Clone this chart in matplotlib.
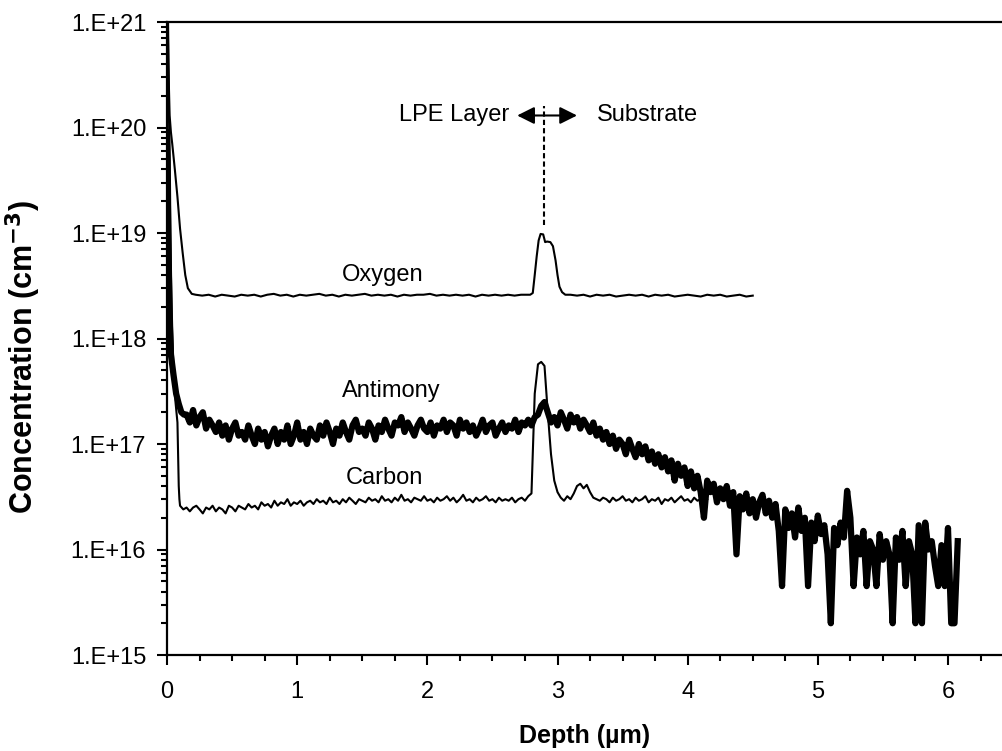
import numpy as np
import matplotlib
matplotlib.use('Agg')
import matplotlib.pyplot as plt
from matplotlib.ticker import MultipleLocator, LogLocator, FuncFormatter, NullFormatter

plt.rcParams['font.family'] = ['Liberation Sans', 'DejaVu Sans']

# ---- SIMS depth profile data (depth in um, concentration in cm^-3) ----
step = 0.025

# Antimony
sb_surf_depth = [0.0, 0.005, 0.01, 0.02, 0.03, 0.05, 0.07, 0.09, 0.11, 0.13]
sb_surf = [9e19, 5e19, 1e19, 1.5e18, 7e17, 4.5e17, 3e17, 2.4e17, 2e17, 1.9e17]
sb_start = 0.15
sb_vals = [  # x 1e16
    19, 16, 21, 15, 18, 20, 14, 17, 15, 13, 16, 12, 15, 11, 14, 16, 12, 13, 11, 15,
    12, 10, 14, 11, 13, 9.5, 12, 14, 10, 13, 11, 15, 10, 12, 16, 11, 13, 10, 14, 12,
    11, 15, 12, 16, 13, 10, 14, 12, 16, 13, 11, 15, 17, 13, 14, 12, 16, 14, 11, 15,
    13, 17, 14, 12, 16, 15, 18, 13, 16, 14, 12, 15, 17, 14, 13, 16, 12, 15, 14, 17,
    13, 16, 15, 12, 17, 14, 16, 13, 15, 12, 14, 17, 13, 15, 16, 12, 14, 16, 13, 15,
    14, 17, 13, 16, 15, 17, 15, 18, 19, 23, 25, 20, 16, 18, 15, 20, 17, 14, 19, 16,
    18, 14, 17, 15, 13, 16, 12, 14, 11, 13, 10, 12, 9, 11, 10, 8, 11, 9, 7.5, 10,
    8, 9.5, 7, 8.5, 6.5, 8, 6, 7.5, 5.5, 7, 4.5, 6.5, 5, 6, 4, 5.5, 3.8, 5, 3.5, 2.0,
    4.5, 3.5, 4.2, 2.8, 3.8, 3.0, 4.0, 2.6, 3.5, 0.9, 3.2, 2.4, 3.4, 2.2, 3.0, 2.0, 2.8, 3.3, 2.2, 2.9,
    2.0, 2.7, 1.5, 0.45, 2.4, 1.6, 2.2, 1.3, 2.5, 1.5, 2.0, 0.45, 1.8, 1.2, 2.1, 1.4, 1.7, 0.9, 0.2, 1.6,
    1.1, 1.8, 1.3, 3.6, 2.0, 0.45, 1.3, 0.9, 1.5, 0.45, 1.2, 1.0, 0.45, 1.4, 0.8, 1.2, 0.9, 0.2, 1.3, 0.8,
    1.5, 0.45, 1.2, 0.9, 0.2, 1.7, 0.2, 1.8, 1.0, 1.2, 0.7, 0.45, 1.1, 0.45, 1.6, 0.2, 0.2, 1.2,
]

# Carbon
c_surf_depth = [0.0, 0.005, 0.01, 0.02, 0.03, 0.04, 0.05, 0.065, 0.08, 0.085, 0.09, 0.095]
c_surf = [3e21, 2e21, 6e20, 3e19, 4e18, 1.2e18, 5e17, 2.5e17, 1.6e17, 8e16, 4e16, 3e16]
c_start = 0.10
c_vals = [  # x 1e16
    2.6, 2.4, 2.5, 2.3, 2.5, 2.6, 2.4, 2.2, 2.5, 2.4, 2.6, 2.3, 2.5, 2.4, 2.2, 2.6, 2.5, 2.3, 2.6, 2.5,
    2.4, 2.7, 2.5, 2.6, 2.4, 2.8, 2.6, 2.7, 2.5, 2.9, 2.6, 2.8, 2.7, 3.0, 2.6, 2.8, 2.7, 2.9, 2.6, 2.8,
    2.9, 2.7, 3.0, 2.8, 2.9, 2.7, 3.1, 2.8, 2.9, 2.7, 3.0, 2.8, 3.1, 2.9, 2.7, 3.0, 2.9, 2.8, 3.1, 2.9,
    3.0, 2.8, 3.2, 2.9, 3.0, 2.8, 3.1, 2.9, 3.3, 2.9, 3.0, 2.8, 3.1, 3.0, 2.9, 3.2, 2.9, 3.0, 2.8, 3.1,
    2.9, 3.0, 3.2, 2.9, 3.1, 2.8, 3.0, 3.3, 2.9, 3.0, 2.8, 3.1, 2.9, 3.0, 3.2, 2.9, 3.0, 2.8, 3.1, 2.9,
    3.0, 2.9, 3.1, 2.8, 3.0, 3.1, 2.9, 3.2, 3.4, 30, 57, 60, 55, 20, 8.0, 4.5, 3.5, 3.1, 2.9, 3.2,
    3.0, 3.4, 4.0, 4.2, 3.8, 4.1, 3.5, 3.1, 3.0, 2.9, 3.1, 3.0, 2.8, 3.1, 2.9, 3.0, 3.2, 2.9, 3.0, 2.8,
    3.1, 2.9, 3.0, 3.2, 2.8, 3.0, 2.9, 3.1, 2.7, 3.0, 2.9, 3.1, 2.8, 3.0, 3.2, 2.9, 3.0, 2.8, 3.1, 2.9,
    3.0, 2.9, 3.0,
]

# Oxygen
ox_surf_depth = [0.0, 0.01, 0.02, 0.03, 0.04, 0.06, 0.08, 0.10, 0.12, 0.14, 0.16, 0.19]
ox_surf = [3e21, 4e20, 1.3e20, 9e19, 7e19, 4e19, 2.2e19, 1.1e19, 6.5e18, 4e18, 3e18, 2.65e18]
ox_flat1_start = 0.22
ox_flat1 = [  # x 1e18, every 0.05 um
    2.6, 2.55, 2.6, 2.5, 2.6, 2.55, 2.5, 2.6, 2.55, 2.6, 2.5, 2.6, 2.65, 2.55, 2.6, 2.5, 2.6,
    2.55, 2.6, 2.65, 2.55, 2.6, 2.5, 2.6, 2.55, 2.6, 2.65, 2.55, 2.6, 2.55, 2.6, 2.5, 2.6, 2.55,
    2.6, 2.6, 2.65, 2.55, 2.6, 2.55, 2.6, 2.55, 2.6, 2.5, 2.6, 2.55, 2.6, 2.55, 2.6, 2.55, 2.6,
]
ox_peak_depth = [2.79, 2.81, 2.825, 2.84, 2.855, 2.87, 2.89, 2.905, 2.92, 2.945, 2.965,
                 2.985, 3.0, 3.015, 3.035, 3.06]
ox_peak = [2.6, 2.7, 4.0, 6.0, 8.5, 9.8, 9.7, 8.2, 8.3, 8.2, 7.5, 5.5, 4.0, 3.1, 2.75, 2.6]
ox_flat2_start = 3.10
ox_flat2 = [  # x 1e18, every 0.05 um
    2.6, 2.55, 2.6, 2.5, 2.6, 2.55, 2.6, 2.5, 2.55, 2.6, 2.55, 2.6, 2.5, 2.6, 2.55,
    2.6, 2.5, 2.55, 2.6, 2.55, 2.5, 2.6, 2.55, 2.6, 2.5, 2.55, 2.6, 2.5, 2.55,
]


def regular(start, dx, vals):
    return list(start + dx * np.arange(len(vals)))


sb_depth = sb_surf_depth + regular(sb_start, step, sb_vals)
sb_conc = sb_surf + [v * 1e16 for v in sb_vals]
c_depth = c_surf_depth + regular(c_start, step, c_vals)
c_conc = c_surf + [v * 1e16 for v in c_vals]
ox_depth = (ox_surf_depth + regular(ox_flat1_start, 0.05, ox_flat1) + ox_peak_depth
            + regular(ox_flat2_start, 0.05, ox_flat2))
ox_conc = ox_surf + [v * 1e18 for v in ox_flat1 + ox_peak + ox_flat2]

fig = plt.figure(figsize=(10.02, 7.51), dpi=100)
ax = fig.add_axes([0.1667, 0.1278, 0.8333, 0.8429])

ax.plot(sb_depth, sb_conc, color='black', lw=4.5)
ax.plot(c_depth, c_conc, color='black', lw=1.5)
ax.plot(ox_depth, ox_conc, color='black', lw=1.5)

ax.set_yscale('log')
ax.set_ylim(1e15, 1e21)
ax.set_xlim(0, 6.415)

ax.xaxis.set_major_locator(MultipleLocator(1))
ax.xaxis.set_minor_locator(MultipleLocator(0.25))
ax.yaxis.set_major_locator(LogLocator(base=10, numticks=10))
ax.yaxis.set_minor_locator(LogLocator(base=10, subs=np.arange(2, 10), numticks=20))
ax.yaxis.set_minor_formatter(NullFormatter())
ax.yaxis.set_major_formatter(FuncFormatter(lambda v, p: "1.E+%d" % int(round(np.log10(v)))))

ax.tick_params(axis='both', which='major', direction='out', length=7, width=1.5,
               labelsize=17)
ax.tick_params(axis='both', which='minor', direction='out', length=4.5, width=1.5)
ax.tick_params(axis='x', which='major', pad=12)
ax.tick_params(axis='y', which='major', pad=8)
ax.tick_params(top=False, right=False, which='both')

for side in ['left', 'bottom', 'top']:
    ax.spines[side].set_linewidth(1.6)
ax.spines['right'].set_visible(False)

ax.set_xlabel(u'Depth (\u00b5m)', fontsize=18, fontweight='bold', labelpad=15)
ax.set_ylabel(r'Concentration (cm$^{\mathbf{-3}}$)', fontsize=22, fontweight='bold')
ax.yaxis.set_label_coords(-0.148, 0.47)

# labels for curves
ax.text(1.66, 4.0e18, 'Oxygen', fontsize=17, ha='center', va='center')
ax.text(1.72, 3.2e17, 'Antimony', fontsize=17, ha='center', va='center')
ax.text(1.67, 4.8e16, 'Carbon', fontsize=17, ha='center', va='center')

# LPE layer / substrate interface
ax.plot([2.9, 2.9], [1.2e19, 1.6e20], color='black', lw=1.5, ls=(0, (2.5, 1.5)))
ax.annotate('', xy=(2.69, 1.3e20), xytext=(3.15, 1.3e20),
            arrowprops=dict(arrowstyle='<|-|>', color='black', lw=1.5,
                            mutation_scale=26, shrinkA=0, shrinkB=0))
ax.text(2.63, 1.3e20, 'LPE Layer', fontsize=17, ha='right', va='center')
ax.text(3.30, 1.3e20, 'Substrate', fontsize=17, ha='left', va='center')

fig.savefig('out.png', dpi=100)
